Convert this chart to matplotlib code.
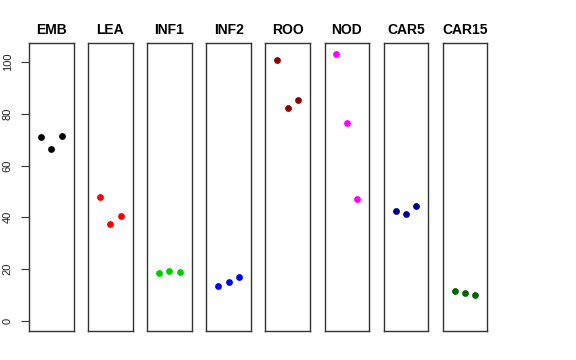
import matplotlib
matplotlib.use("Agg")
import matplotlib.pyplot as plt

groups = ["EMB", "LEA", "INF1", "INF2", "ROO", "NOD", "CAR5", "CAR15"]
values = {
    "EMB": [70.9, 66.4, 71.4],
    "LEA": [47.9, 37.2, 40.3],
    "INF1": [18.5, 19.1, 18.7],
    "INF2": [13.3, 15.1, 16.8],
    "ROO": [100.9, 82.2, 85.5],
    "NOD": [103.2, 76.5, 46.9],
    "CAR5": [42.4, 41.3, 44.2],
    "CAR15": [11.6, 10.5, 10.1],
}
colors = ["#000000", "#FF0000", "#00CD00", "#0000FF", "#8B0000", "#FF00FF", "#00008B", "#006400"]
replicates = [1, 2, 3]
yticks = [0, 20, 40, 60, 80, 100]

plt.rcParams["font.family"] = ["Liberation Sans", "DejaVu Sans"]

W, H = 576, 360
fig = plt.figure(figsize=(W / 100, H / 100), dpi=100)
left0 = 29.0
pw = 44.5
step = 59.1
top = 43.0
bottom = 331.3

ymin, ymax = 0, 103.3
pad = 0.04 * (ymax - ymin)

for i, g in enumerate(groups):
    ax = fig.add_axes([(left0 + i * step) / W, (H - bottom) / H, pw / W, (bottom - top) / H])
    ax.scatter(replicates, values[g], s=24, color=colors[i], zorder=3, linewidths=0)
    ax.set_xlim(-0.16, 4.16)
    ax.set_ylim(ymin - pad, ymax + pad)
    ax.set_xticks([])
    for sp in ax.spines.values():
        sp.set_color("#333333")
        sp.set_linewidth(1.0)
    ax.set_title(g, fontsize=10, fontweight="bold", pad=6.5)
    if i == 0:
        ax.set_yticks(yticks)
        ax.set_yticklabels([str(t) for t in yticks], rotation=90, va="center", fontsize=8)
        ax.tick_params(axis="y", length=5.7, width=0.8, pad=6, colors="#333333", labelcolor="#222222")
    else:
        ax.set_yticks([])

fig.savefig("out.png", dpi=100)
